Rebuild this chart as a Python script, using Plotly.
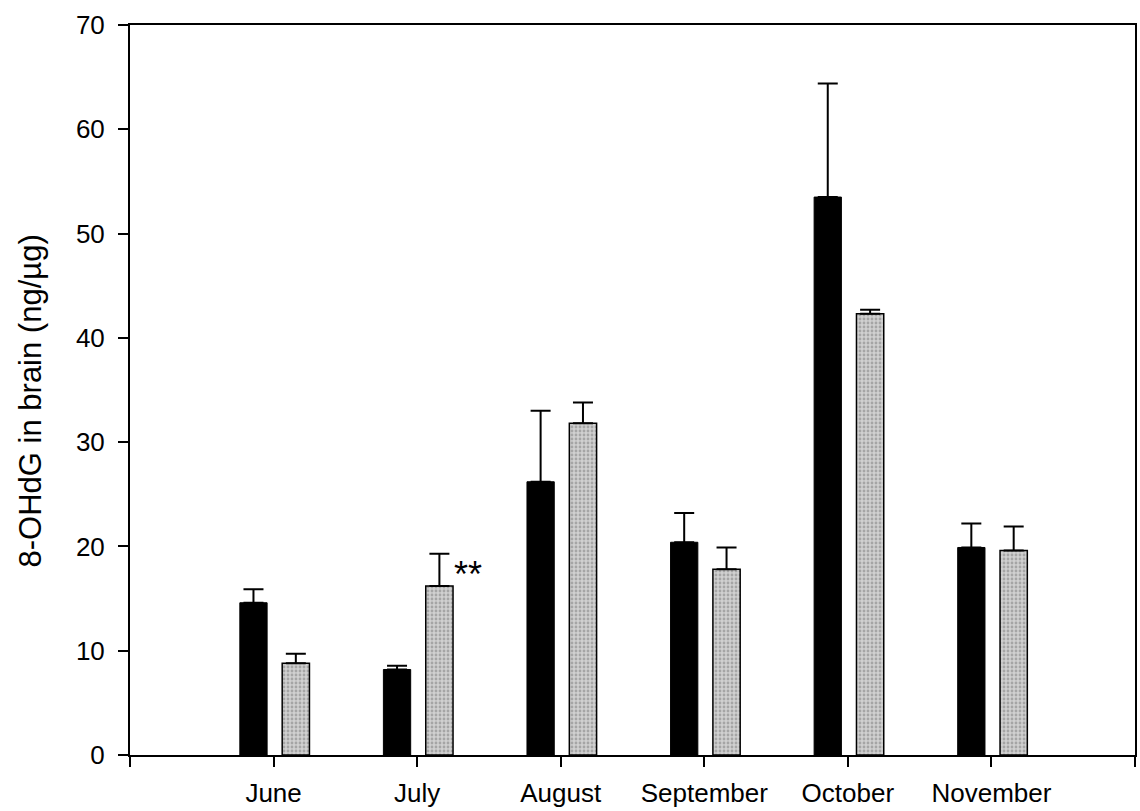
import plotly.graph_objects as go

months = ["June", "July", "August", "September", "October", "November"]
black_vals = [14.6, 8.2, 26.2, 20.4, 53.5, 19.9]
black_err = [1.3, 0.35, 6.8, 2.8, 10.9, 2.3]
gray_vals = [8.8, 16.2, 31.8, 17.8, 42.3, 19.6]
gray_err = [0.9, 3.1, 2.0, 2.1, 0.4, 2.3]
y_ticks = [0, 10, 20, 30, 40, 50, 60, 70]
y_title = "8-OHdG in brain (ng/µg)"

x_pos = list(range(1, len(months) + 1))
FONT = "Arial, Liberation Sans, sans-serif"

fig = go.Figure()
fig.add_trace(go.Bar(
    x=x_pos, y=black_vals, width=0.19, offset=-0.235,
    marker=dict(color="black", line=dict(color="black", width=1)),
    error_y=dict(type="data", array=black_err, arrayminus=[0] * len(black_err),
                 symmetric=False, color="black", thickness=2, width=10),
    name="Series 1", showlegend=False,
))
fig.add_trace(go.Bar(
    x=x_pos, y=gray_vals, width=0.19, offset=0.06,
    marker=dict(color="#c8c8c8", line=dict(color="black", width=1.5),
                pattern=dict(shape=".", size=4, solidity=0.4,
                             fgcolor="#7a7a7a", bgcolor="#d0d0d0")),
    error_y=dict(type="data", array=gray_err, arrayminus=[0] * len(gray_err),
                 symmetric=False, color="black", thickness=2, width=10),
    name="Series 2", showlegend=False,
))

fig.add_annotation(x=x_pos[1] + 0.24, y=17.3, text="**", showarrow=False,
                   xanchor="left", yanchor="middle",
                   font=dict(family=FONT, size=36, color="black"))

fig.add_annotation(xref="paper", yref="paper", x=-0.099, y=0.485,
                   text=y_title, textangle=-90, showarrow=False,
                   xanchor="center", yanchor="middle",
                   font=dict(family=FONT, size=31, color="black"))

fig.update_layout(
    width=1140, height=811,
    margin=dict(l=130, r=3, t=25, b=54),
    paper_bgcolor="white", plot_bgcolor="white",
    barmode="overlay",
    font=dict(family=FONT, size=26, color="black"),
    xaxis=dict(
        range=[0, len(months) + 1],
        tickvals=[0] + x_pos + [len(months) + 1],
        ticktext=[""] + months + [""],
        ticks="outside", ticklen=10, tickwidth=2, tickcolor="black",
        showline=True, linecolor="black", linewidth=2, mirror=True,
        showgrid=False, zeroline=False, ticklabelstandoff=4,
        tickfont=dict(family=FONT, size=26, color="black"),
    ),
    yaxis=dict(
        range=[0, 70],
        tickvals=y_ticks,
        ticks="outside", ticklen=10, tickwidth=2, tickcolor="black",
        showline=True, linecolor="black", linewidth=2, mirror=True,
        showgrid=False, zeroline=False, ticklabelstandoff=8,
        tickfont=dict(family=FONT, size=26, color="black"),
    ),
)

fig.write_html("out.html")
